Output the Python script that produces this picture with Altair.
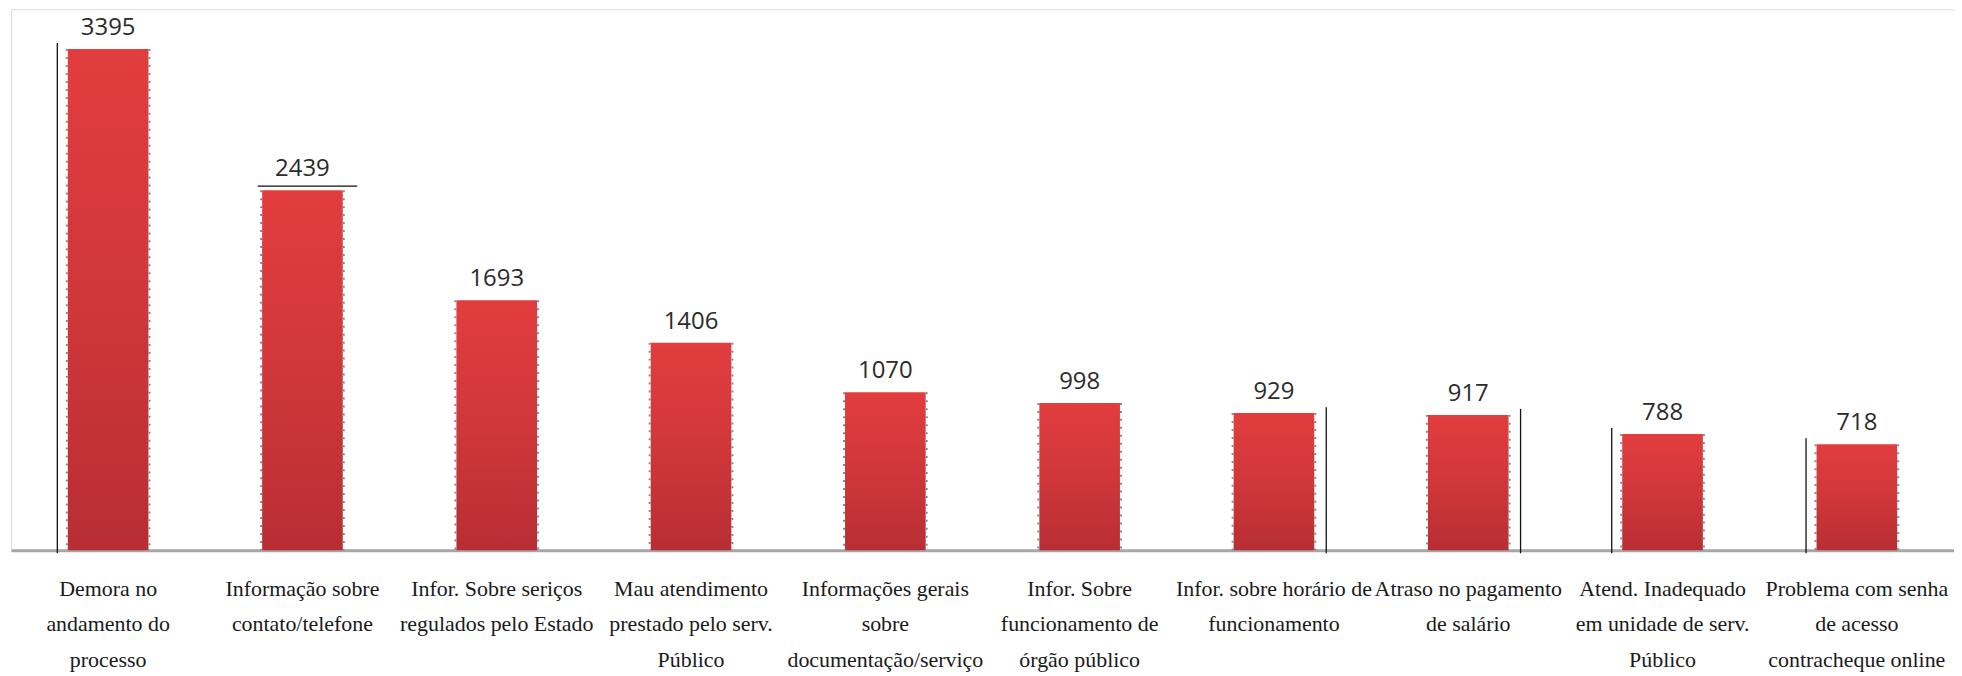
import altair as alt
import pandas as pd

labels = [
    ["Demora no", "andamento do", "processo"],
    ["Informação sobre", "contato/telefone"],
    ["Infor. Sobre seriços", "regulados pelo Estado"],
    ["Mau atendimento", "prestado pelo serv.", "Público"],
    ["Informações gerais", "sobre", "documentação/serviço"],
    ["Infor. Sobre", "funcionamento de", "órgão público"],
    ["Infor. sobre horário de", "funcionamento"],
    ["Atraso no pagamento", "de salário"],
    ["Atend. Inadequado", "em unidade de serv.", "Público"],
    ["Problema com senha", "de acesso", "contracheque online"],
]
values = [3395, 2439, 1693, 1406, 1070, 998, 929, 917, 788, 718]

# thin frame lines seen in the reference (left / right of some bars)
left_frame_idx = [0, 8, 9]
right_frame_idx = [6, 7]
top_frame_idx = [1]

cats = ["|".join(l) for l in labels]
df = pd.DataFrame({"cat": cats, "value": values})
df_left = df.iloc[left_frame_idx]
df_right = df.iloc[right_frame_idx]
df_top = df.iloc[top_frame_idx]

x_enc = alt.X(
    "cat:N",
    sort=cats,
    scale=alt.Scale(domain=cats, paddingInner=0.585, paddingOuter=0.2925),
    axis=alt.Axis(
        title=None,
        labelExpr="split(datum.label, '|')",
        labelAngle=0,
        labelFont="Liberation Serif, DejaVu Serif, serif",
        labelFontSize=22,
        labelLineHeight=36,
        labelPadding=28,
        labelBaseline="top",
        labelColor="#1a1a1a",
        labelLimit=0,
        labelOverlap=False,
        ticks=False,
        domainColor="#A6A6A6",
        domainWidth=3,
    ),
)
y_scale = alt.Scale(domain=[0, 3665], nice=False)
y_enc = alt.Y("value:Q", scale=y_scale, axis=None)

grad = alt.Gradient(
    gradient="linear",
    stops=[
        alt.GradientStop(color="#E23D3F", offset=0),
        alt.GradientStop(color="#D0373A", offset=0.5),
        alt.GradientStop(color="#B82E34", offset=1),
    ],
    x1=0, x2=0, y1=0, y2=1,
)

base = alt.Chart(df)

bars = base.mark_bar(fill=grad).encode(x=x_enc, y=y_enc)

dots_l = base.mark_rule(color="#8a8a8a", strokeDash=[2, 6], strokeWidth=2, xOffset=-41.5).encode(
    x=alt.X("cat:N", sort=cats), y=alt.Y("value:Q", scale=y_scale), y2=alt.datum(0)
)
dots_r = base.mark_rule(color="#8a8a8a", strokeDash=[2, 6], strokeWidth=2, xOffset=41.5).encode(
    x=alt.X("cat:N", sort=cats), y=alt.Y("value:Q", scale=y_scale), y2=alt.datum(0)
)

frame_l = alt.Chart(df_left).mark_rule(color="#111111", strokeWidth=1.3, xOffset=-51, yOffset=-6, y2Offset=3).encode(
    x=alt.X("cat:N", sort=cats), y=alt.Y("value:Q", scale=y_scale), y2=alt.datum(0)
)
frame_r = alt.Chart(df_right).mark_rule(color="#111111", strokeWidth=1.3, xOffset=52.5, yOffset=-6, y2Offset=3).encode(
    x=alt.X("cat:N", sort=cats), y=alt.Y("value:Q", scale=y_scale), y2=alt.datum(0)
)
frame_t = alt.Chart(df_top).mark_rule(color="#111111", strokeWidth=1.3, xOffset=-45, x2Offset=55, yOffset=-4).encode(
    x=alt.X("cat:N", sort=cats), x2=alt.X2("cat:N"), y=alt.Y("value:Q", scale=y_scale)
)

text = base.mark_text(
    font="Open Sans", fontSize=24, color="#2b2b2b", baseline="alphabetic", dy=-14
).encode(x=alt.X("cat:N", sort=cats), y=alt.Y("value:Q", scale=y_scale), text="value:Q")

chart = (
    alt.layer(bars, dots_l, dots_r, frame_l, frame_r, frame_t, text)
    .properties(
        width=1950,
        height=543,
        padding={"left": 3, "top": 0, "right": 0, "bottom": 125},
        autosize=alt.AutoSizeParams(type="none"),
    )
    .configure_view(strokeWidth=0, stroke="transparent")
    .configure(background="white")
)

chart.save("out.html", embed_options={"renderer": "svg", "actions": False})
